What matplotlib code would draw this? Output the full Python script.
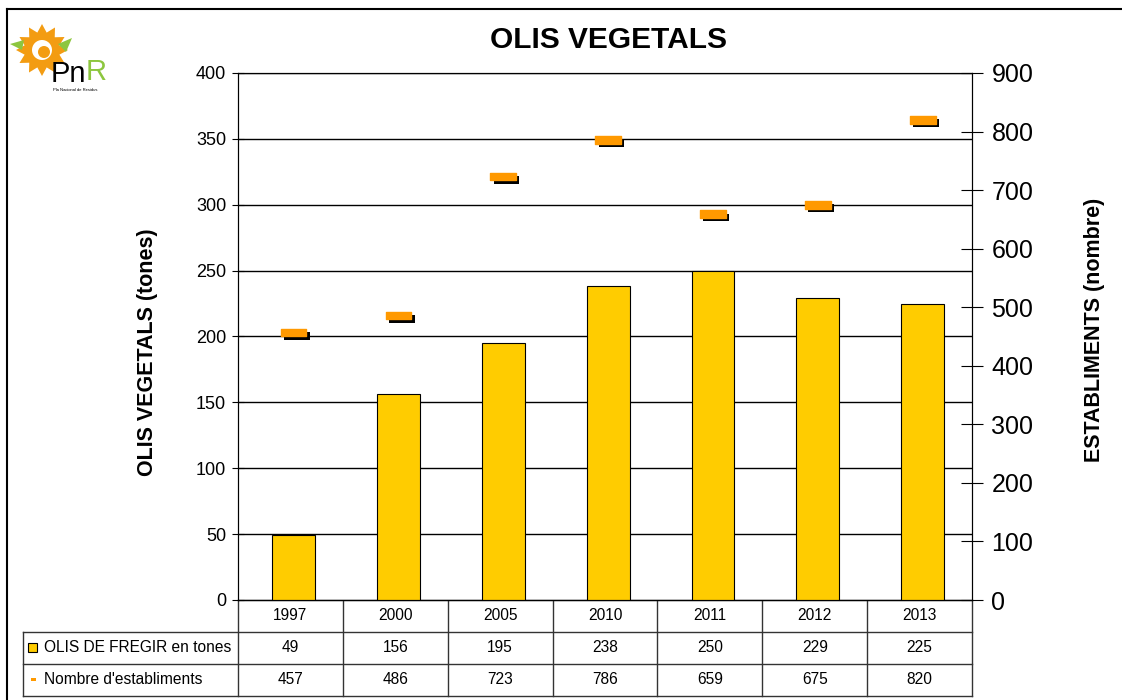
import matplotlib.pyplot as plt
import matplotlib.patheffects as pe
from matplotlib.path import Path
from matplotlib.patches import Rectangle, Polygon, Circle
import numpy as np

plt.rcParams['font.family'] = ['Liberation Sans', 'DejaVu Sans']

# Data
years = ['1997', '2000', '2005', '2010', '2011', '2012', '2013']
oils = [49, 156, 195, 238, 250, 229, 225]
establishments = [457, 486, 723, 786, 659, 675, 820]
row_labels = ['OLIS DE FREGIR en tones', "Nombre d'establiments"]

W, H = 1122, 700
fig = plt.figure(figsize=(W / 100, H / 100), dpi=100)

# background axes in pixel coordinates for frame, table and logo
bg = fig.add_axes([0, 0, 1, 1])
bg.set_xlim(0, W)
bg.set_ylim(H, 0)
bg.axis('off')

# plot area (pixels)
x0, x1, y0, y1 = 238, 972, 73, 600
ax = fig.add_axes([x0 / W, 1 - y1 / H, (x1 - x0) / W, (y1 - y0) / H])
xs = np.arange(len(years))
ax.bar(xs + 0.03, oils, width=0.41, color='#FFCC00', edgecolor='black', linewidth=0.8, zorder=3)
ax.set_xlim(-0.5, len(years) - 0.5)
ax.set_ylim(0, 400)
ax.set_yticks(range(0, 401, 50))
ax.set_xticks([])
ax.yaxis.grid(True, color='black', linewidth=1)
ax.set_axisbelow(True)
ax.tick_params(axis='y', direction='inout', length=9, width=0.8, labelsize=13, pad=4)
for s in ax.spines.values():
    s.set_linewidth(0.8)

# right axis with establishment markers
ax2 = ax.twinx()
ax2.set_ylim(0, 900)
ax2.set_yticks(range(0, 901, 100))
ax2.tick_params(axis='y', direction='inout', length=16, width=0.8, labelsize=18, pad=6)
dash = Path([(-1, -0.3), (1, -0.3), (1, 0.3), (-1, 0.3), (-1, -0.3)],
            [Path.MOVETO, Path.LINETO, Path.LINETO, Path.LINETO, Path.CLOSEPOLY])
ax2.plot(xs + 0.03, establishments, linestyle='none', marker=dash, markersize=18.5,
         markerfacecolor='#FF9900', markeredgecolor='#FF9900', zorder=4,
         path_effects=[pe.withSimplePatchShadow(offset=(2.4, -2.4), shadow_rgbFace='black', alpha=1)])

# axis titles
bg.text(148, 352, 'OLIS VEGETALS (tones)', rotation=90, ha='center', va='center',
        fontsize=15.5, fontweight='bold')
bg.text(1095, 330, 'ESTABLIMENTS (nombre)', rotation=90, ha='center', va='center',
        fontsize=15.5, fontweight='bold')

# title
fig.text(609 / W, 1 - 40 / H, 'OLIS VEGETALS', ha='center', va='center', fontsize=21.5, fontweight='bold')

# outer frame (top and left)
bg.plot([7, W], [9, 9], color='black', lw=1.5)
bg.plot([7, 7], [9, H], color='black', lw=1.5)

# data table
cw = (x1 - x0) / len(years)
rows_y = [600, 632, 664, 696]
lc = '#333333'
tx = 23
bg.plot([x0, x1], [rows_y[0]] * 2, color=lc, lw=1)
for r in rows_y[1:]:
    bg.plot([tx, x1], [r, r], color=lc, lw=1)
for i in range(len(years) + 1):
    bg.plot([x0 + i * cw] * 2, [rows_y[0], rows_y[-1]], color=lc, lw=1)
bg.plot([tx, tx], [rows_y[1], rows_y[-1]], color=lc, lw=1)
for i, y in enumerate(years):
    cx = x0 + (i + 0.5) * cw
    bg.text(cx, (rows_y[0] + rows_y[1]) / 2, y, ha='center', va='center', fontsize=11.2)
    bg.text(cx, (rows_y[1] + rows_y[2]) / 2, str(oils[i]), ha='center', va='center', fontsize=11.2)
    bg.text(cx, (rows_y[2] + rows_y[3]) / 2, str(establishments[i]), ha='center', va='center', fontsize=11.2)
bg.add_patch(Rectangle((28, 643), 9, 9, facecolor='#FFCC00', edgecolor='black', lw=0.8))
bg.add_patch(Rectangle((31, 678), 5, 3, facecolor='#FF9900', edgecolor='none'))
bg.text(44, 648, row_labels[0], ha='left', va='center', fontsize=11.2)
bg.text(44, 680, row_labels[1], ha='left', va='center', fontsize=11.2)

# logo (simplified)
ang = np.linspace(0, 2 * np.pi, 25)[:-1]
rad = np.where(np.arange(24) % 2 == 0, 26, 18)
bg.add_patch(Polygon(np.c_[42 + rad * np.cos(ang), 50 + rad * np.sin(ang)], closed=True,
                     facecolor='#F39C12', edgecolor='none'))
bg.add_patch(Circle((42, 50), 10, facecolor='white', edgecolor='none'))
bg.add_patch(Circle((44, 52), 6, facecolor='#F39C12', edgecolor='none'))
bg.add_patch(Polygon([(10, 44), (24, 40), (22, 50)], facecolor='#8DC63F', edgecolor='none'))
bg.add_patch(Polygon([(58, 44), (72, 38), (66, 52)], facecolor='#8DC63F', edgecolor='none'))
bg.text(51, 74, 'Pn', fontsize=21, color='black', ha='left', va='center')
bg.text(86, 72, 'R', fontsize=21, color='#8DC63F', ha='left', va='center')
bg.text(53, 90, 'Pla Nacional de Residus', fontsize=3, ha='left', va='center')

plt.savefig('out.png', dpi=100)
